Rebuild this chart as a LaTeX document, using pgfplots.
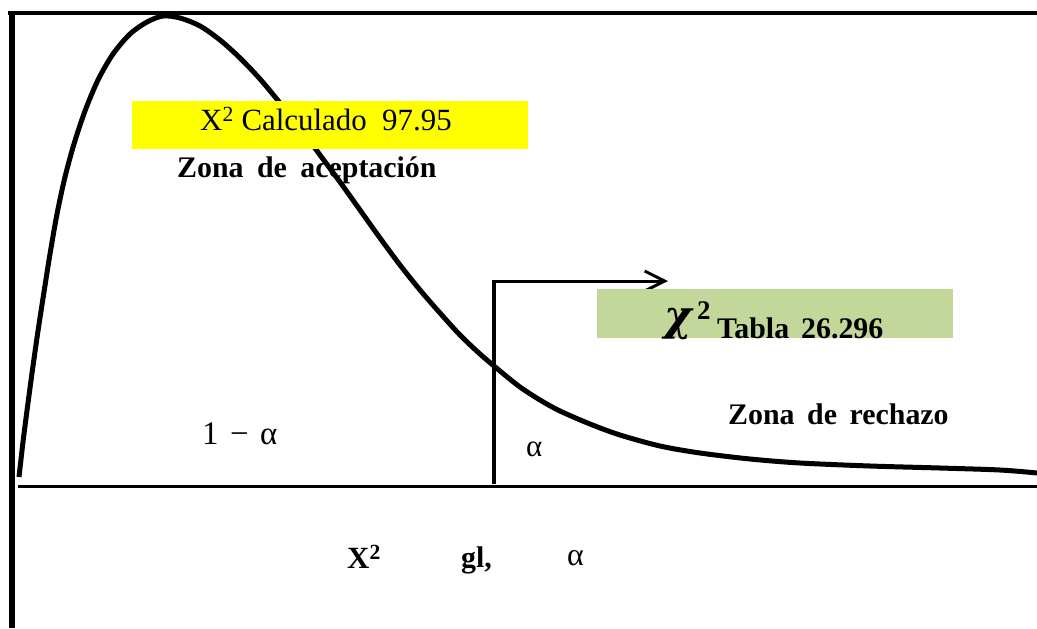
\documentclass[border=0pt]{standalone}
\usepackage{pgfplots}
\pgfplotsset{compat=1.18}
\usepackage{fontspec}
\setmainfont{Liberation Serif}
\newfontfamily\dejavuserif{DejaVu Serif}
\usetikzlibrary{arrows.meta}
\definecolor{amarillo}{HTML}{FFFF00}
\definecolor{verde}{HTML}{C4D79B}
\tikzset{txt/.style={anchor=base west, inner sep=0pt}}

\begin{document}
\begin{tikzpicture}
\begin{axis}[
    width=1037bp, height=628bp, scale only axis,
    xmin=0, xmax=1037, ymin=0, ymax=628,
    y dir=reverse,
    hide axis,
    clip=false,
]
% marco: lineas superior, izquierda y eje horizontal
\addplot[black, line width=4bp] coordinates {(8,13)(1037,13)};
\addplot[black, line width=6bp] coordinates {(11.5,11)(11.5,628)};
\addplot[black, line width=3.5bp] coordinates {(18,486.5)(1037,486.5)};

% texto que queda bajo la curva
\node[txt] at (axis cs:177,177) {\fontsize{30}{30}\selectfont\bfseries Zona\hspace{0.45em}de\hspace{0.45em}aceptación};

% curva chi cuadrado
\addplot[black, line width=5bp, smooth] coordinates {
    (19,477)(23,442)(28,403)(33,366)(38,331)(44,292)(50,254)(57,214)
    (65,177)(74,144)(85,111)(98,80)(113,54)(130,34)(147,22)(163,16)
    (180,18)(200,26)(220,40)(240,58)(260,79)(280,103)(300,128)(320,155)
    (340,182)(360,210)(380,238)(400,265)(420,290)(440,313)(460,335)
    (480,354)(500,371)(520,387)(540,400)(560,411)(590,424)(620,435)
    (660,446)(700,453)(750,459)(800,463)(870,466)(940,468)(1000,470)(1037,473)
};

% valor critico y flecha
\addplot[black, line width=4bp] coordinates {(494,280)(494,484)};
\draw[black, line width=3bp, -{Straight Barb[length=20bp, width=20bp]}]
    (axis cs:494,281) -- (axis cs:668,281);

% cajas de color
\fill[amarillo] (axis cs:132,101) rectangle (axis cs:528,149);
\fill[verde] (axis cs:597,289) rectangle (axis cs:953,338);

\node[txt] at (axis cs:200,130) {\fontsize{31}{31}\selectfont X\textsuperscript{2} Calculado\hspace{0.5em}97.95};
\node[txt] at (axis cs:664,330) {\fontsize{42}{42}\selectfont\dejavuserif\bfseries\itshape χ};
\node[txt] at (axis cs:697,319) {\fontsize{27}{27}\selectfont\bfseries 2};
\node[txt] at (axis cs:717,338) {\fontsize{30}{30}\selectfont\bfseries Tabla\hspace{0.4em}26.296};

\node[txt] at (axis cs:728,424) {\fontsize{30}{30}\selectfont\bfseries Zona\hspace{0.42em}de\hspace{0.42em}rechazo};
\node[txt] at (axis cs:202,444) {\fontsize{33}{33}\selectfont 1\hspace{0.35em}−\hspace{0.35em}α};
\node[txt] at (axis cs:526,456) {\fontsize{31}{31}\selectfont α};

\node[txt] at (axis cs:347,568) {\fontsize{31}{31}\selectfont\bfseries X\textsuperscript{2}};
\node[txt] at (axis cs:461,567) {\fontsize{30}{30}\selectfont\bfseries gl,};
\node[txt] at (axis cs:567,565) {\fontsize{32}{32}\selectfont α};
\end{axis}
\pgfresetboundingbox
\path (current axis.south west) rectangle (current axis.north east);
\end{tikzpicture}
\end{document}
